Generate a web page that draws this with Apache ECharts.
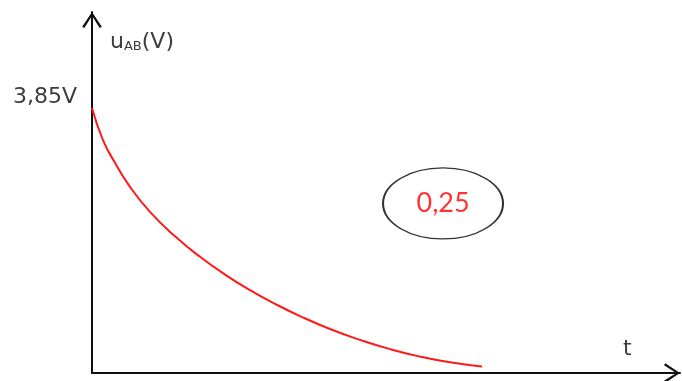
<!DOCTYPE html>
<html>
<head>
<meta charset="utf-8">
<script src="https://cdn.jsdelivr.net/npm/echarts@6/dist/echarts.min.js"></script>
<style>
  html, body { margin: 0; padding: 0; background: #fff; }
  #chart { width: 682px; height: 381px; }
</style>
</head>
<body>
<div id="chart"></div>
<script>
// discharge curve u_AB(t)
var tValues = [0, 1.87, 3.91, 6.46, 9.86, 14.12, 18.37, 22.62, 26.87, 31.12, 35.37, 40.48, 45.58, 50.68, 55.78, 60.88, 66.33];
var uValues = [3.85, 3.385, 3.054, 2.705, 2.342, 1.986, 1.688, 1.430, 1.204, 1.005, 0.827, 0.639, 0.482, 0.347, 0.238, 0.155, 0.094];
var yTickValues = [3.85];
var yTickLabels = ['3,85V'];
var noteText = '0,25';
var notePoint = [59.7, 2.463];

var arrowPath = 'path://M0,15 L10,0 L20,15 L17.8,16.3 L10,3.9 L2.2,16.3 Z';
var textGrey = '#3c3c3c';

var chart = echarts.init(document.getElementById('chart'));

var curve = tValues.map(function (t, i) { return [t, uValues[i]]; });

chart.setOption({
    animation: false,
    grid: { left: 92, right: 2, top: 12, bottom: 8 },
    xAxis: {
        type: 'value',
        min: 0,
        max: 100,
        name: 't',
        nameLocation: 'end',
        nameGap: -57,
        nameTextStyle: {
            color: textGrey,
            fontSize: 22,
            fontFamily: 'DejaVu Sans',
            align: 'left',
            verticalAlign: 'bottom',
            padding: [0, 0, 13, 0]
        },
        axisLine: {
            show: true,
            symbol: ['none', arrowPath],
            symbolSize: [20, 16],
            symbolOffset: [0, -8],
            lineStyle: { color: '#111', width: 2 }
        },
        axisTick: { show: false },
        axisLabel: { show: false },
        splitLine: { show: false }
    },
    yAxis: {
        type: 'value',
        min: 0,
        max: 5.245,
        name: '{u|u}{s|AB}{u|(V)}',
        nameLocation: 'end',
        nameGap: -30,
        nameTextStyle: {
            align: 'left',
            verticalAlign: 'middle',
            padding: [0, 0, 0, 18],
            rich: {
                u: { color: textGrey, fontSize: 22, fontFamily: 'DejaVu Sans' },
                s: { color: textGrey, fontSize: 13, fontFamily: 'DejaVu Sans', verticalAlign: 'bottom', padding: [7, 0, 0, 0] }
            }
        },
        axisLine: {
            show: true,
            symbol: ['none', arrowPath],
            symbolSize: [20, 16],
            symbolOffset: [0, -8],
            lineStyle: { color: '#111', width: 2 }
        },
        axisTick: { show: false },
        axisLabel: {
            show: true,
            customValues: yTickValues,
            margin: 15,
            color: textGrey,
            fontSize: 22,
            fontFamily: 'DejaVu Sans',
            verticalAlign: 'bottom',
            formatter: function (v) {
                var i = yTickValues.indexOf(v);
                return i >= 0 ? yTickLabels[i] : '';
            }
        },
        splitLine: { show: false }
    },
    series: [
        {
            type: 'line',
            data: curve,
            smooth: 0.5,
            showSymbol: false,
            lineStyle: { color: '#ff1a1a', width: 2 },
            z: 3
        },
        {
            type: 'scatter',
            data: [notePoint],
            symbol: 'circle',
            symbolSize: [120, 71],
            itemStyle: { color: 'rgba(0,0,0,0)', borderColor: '#000', borderWidth: 1.6 },
            label: {
                show: true,
                position: 'inside',
                formatter: noteText,
                color: '#ff0000',
                fontSize: 27,
                fontFamily: 'Lato'
            },
            silent: true
        }
    ]
});
</script>
</body>
</html>
